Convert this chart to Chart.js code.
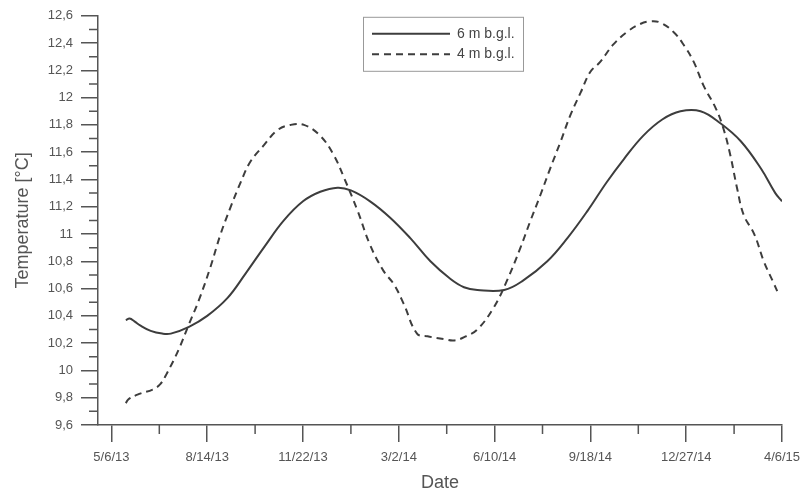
<!DOCTYPE html>
<html>
<head>
<meta charset="utf-8">
<script src="https://cdn.jsdelivr.net/npm/chart.js@4"></script>
<style>
  html, body { margin: 0; padding: 0; background: #fff; }
</style>
</head>
<body>
<canvas id="chart" width="802" height="494"></canvas>
<script>
// x values are days counted from 5/6/13
const tickDays = [0, 100, 200, 300, 400, 500, 600, 700];
const tickLabels = ['5/6/13', '8/14/13', '11/22/13', '3/2/14', '6/10/14', '9/18/14', '12/27/14', '4/6/15'];
const tempTicks = [9.6, 9.8, 10, 10.2, 10.4, 10.6, 10.8, 11, 11.2, 11.4, 11.6, 11.8, 12, 12.2, 12.4, 12.6];

// 6 m b.g.l.
const days6m = [15, 19, 24, 30, 41, 53, 62, 81, 100, 121, 140, 160, 180, 200, 218, 236, 250, 270, 291, 312, 333, 354, 368, 382, 410, 430, 455, 476, 497, 517, 535, 555, 575, 594, 615, 636, 657, 678, 693, 700];
const temp6m = [10.37, 10.38, 10.36, 10.33, 10.29, 10.27, 10.27, 10.32, 10.40, 10.53, 10.71, 10.91, 11.10, 11.24, 11.31, 11.34, 11.32, 11.24, 11.12, 10.97, 10.80, 10.67, 10.61, 10.59, 10.59, 10.66, 10.80, 10.97, 11.17, 11.38, 11.55, 11.72, 11.84, 11.90, 11.90, 11.81, 11.68, 11.48, 11.30, 11.24];

// 4 m b.g.l.
const days4m = [15, 18, 30, 43, 51, 58, 70, 81, 91, 103, 114, 124, 135, 145, 159, 173, 187, 201, 218, 232, 243, 257, 270, 284, 295, 305, 319, 330, 347, 358, 370, 382, 399, 413, 427, 437, 448, 458, 469, 479, 490, 500, 510, 524, 538, 552, 563, 573, 587, 598, 608, 618, 631, 639, 646, 653, 660, 671, 681, 690, 697];
const temp4m = [9.76, 9.79, 9.83, 9.86, 9.90, 9.98, 10.15, 10.34, 10.51, 10.75, 11.00, 11.19, 11.38, 11.53, 11.65, 11.76, 11.80, 11.80, 11.72, 11.58, 11.41, 11.17, 10.92, 10.73, 10.63, 10.49, 10.27, 10.25, 10.23, 10.22, 10.25, 10.30, 10.46, 10.66, 10.90, 11.09, 11.29, 11.48, 11.68, 11.87, 12.04, 12.19, 12.26, 12.39, 12.48, 12.54, 12.56, 12.55, 12.48, 12.38, 12.26, 12.09, 11.92, 11.77, 11.58, 11.34, 11.14, 11.00, 10.80, 10.66, 10.55];

const axisColor = '#555';
const lineColor = '#3d3d3d';

Chart.defaults.font.family = '"Liberation Sans", Arial, sans-serif';
Chart.defaults.color = '#555';

function toPoints(xs, ys) {
    return xs.map((x, i) => ({ x: x, y: ys[i] }));
}

function formatTemp(v) {
    return String(Math.round(v * 10) / 10).replace('.', ',');
}

// minor ticks and the legend box inside the plot
const extras = {
    id: 'extras',
    afterDraw(chart) {
        const { ctx, chartArea } = chart;
        const x = chart.scales.x, y = chart.scales.y;
        ctx.save();
        ctx.strokeStyle = axisColor;
        ctx.lineWidth = 1.5;
        ctx.beginPath();
        for (let i = 0; i < tickDays.length - 1; i++) {
            const px = x.getPixelForValue((tickDays[i] + tickDays[i + 1]) / 2);
            ctx.moveTo(px, chartArea.bottom);
            ctx.lineTo(px, chartArea.bottom + 9);
        }
        for (let i = 0; i < tempTicks.length - 1; i++) {
            const py = y.getPixelForValue((tempTicks[i] + tempTicks[i + 1]) / 2);
            ctx.moveTo(chartArea.left - 9, py);
            ctx.lineTo(chartArea.left, py);
        }
        ctx.stroke();

        // legend
        const bx = chartArea.left + 265, by = chartArea.top + 1;
        ctx.strokeStyle = '#999';
        ctx.lineWidth = 1;
        ctx.strokeRect(bx + 0.5, by + 0.5, 160, 54);
        ctx.font = '14px "Liberation Sans", Arial, sans-serif';
        ctx.fillStyle = '#444';
        ctx.textBaseline = 'middle';
        chart.data.datasets.forEach((ds, i) => {
            const ry = by + 17 + i * 20.5;
            ctx.strokeStyle = ds.borderColor;
            ctx.lineWidth = ds.borderWidth;
            ctx.setLineDash(ds.borderDash || []);
            ctx.beginPath();
            ctx.moveTo(bx + 9, ry);
            ctx.lineTo(bx + 87, ry);
            ctx.stroke();
            ctx.setLineDash([]);
            ctx.fillText(ds.label, bx + 94, ry);
        });
        ctx.restore();
    }
};

new Chart(document.getElementById('chart').getContext('2d'), {
    type: 'line',
    data: {
        datasets: [{
            label: '6 m b.g.l.',
            data: toPoints(days6m, temp6m),
            borderColor: lineColor,
            borderWidth: 2,
            pointRadius: 0,
            tension: 0.4,
            fill: false
        }, {
            label: '4 m b.g.l.',
            data: toPoints(days4m, temp4m),
            borderColor: lineColor,
            borderWidth: 2,
            borderDash: [7, 5],
            pointRadius: 0,
            tension: 0.4,
            fill: false
        }]
    },
    options: {
        responsive: false,
        animation: false,
        layout: { padding: { left: 0, top: 13, right: 20, bottom: 0 } },
        plugins: {
            legend: { display: false },
            tooltip: { enabled: false }
        },
        scales: {
            x: {
                type: 'linear',
                min: -14,
                max: 700,
                afterBuildTicks: s => { s.ticks = tickDays.map(v => ({ value: v })); },
                afterFit: s => { s.height = 69; s.paddingLeft = 0; s.paddingRight = 0; },
                ticks: {
                    callback: (v, i) => tickLabels[i],
                    autoSkip: false,
                    maxRotation: 0,
                    padding: 8,
                    font: { size: 13 }
                },
                grid: { drawOnChartArea: false, tickLength: 17, color: axisColor, lineWidth: 1.5 },
                border: { color: axisColor, width: 1.5 },
                title: { display: true, text: 'Date', font: { size: 18 }, padding: { top: 0, bottom: 0 } }
            },
            y: {
                min: 9.6,
                max: 12.6,
                afterBuildTicks: s => { s.ticks = tempTicks.map(v => ({ value: v })); },
                afterFit: s => { s.width = 98; },
                ticks: {
                    callback: v => formatTemp(v),
                    padding: 8,
                    font: { size: 13 }
                },
                grid: { drawOnChartArea: false, tickLength: 17, color: axisColor, lineWidth: 1.5 },
                border: { color: axisColor, width: 1.5 },
                title: { display: true, text: 'Temperature [°C]', font: { size: 18 }, padding: { top: 12, bottom: 0 } }
            }
        }
    },
    plugins: [extras]
});
</script>
</body>
</html>
